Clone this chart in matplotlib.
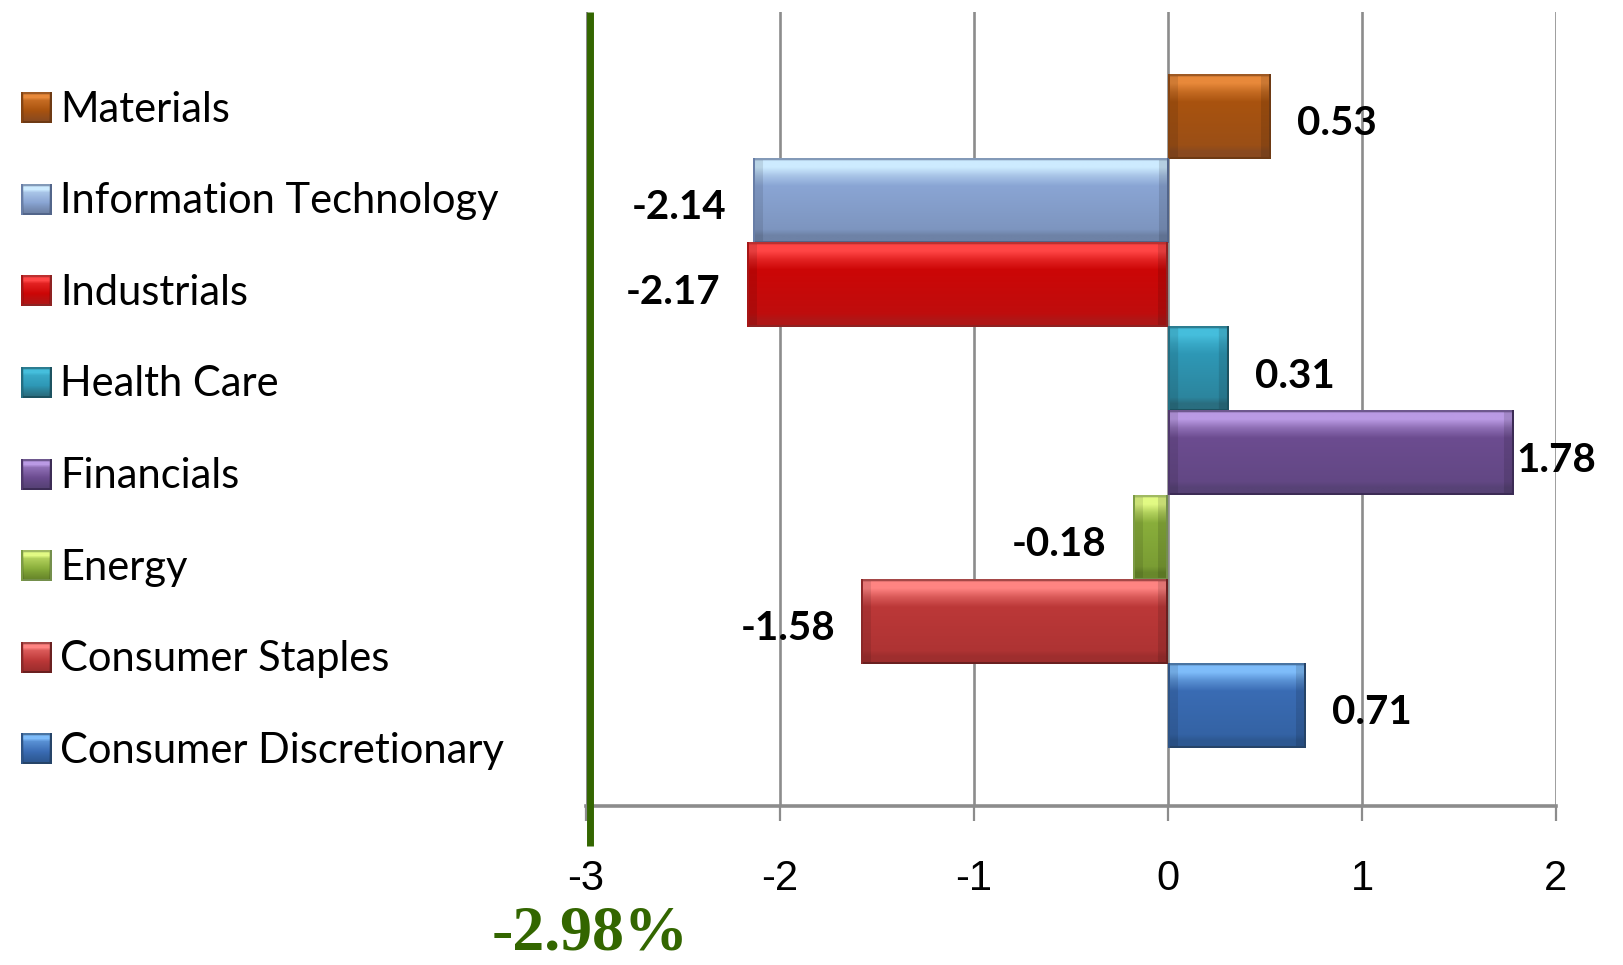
import numpy as np
import matplotlib
matplotlib.use("Agg")
import matplotlib.pyplot as plt
from matplotlib.colors import to_rgb
from matplotlib.transforms import blended_transform_factory

# Sector contributions (top to bottom as listed)
sectors = ["Materials", "Information Technology", "Industrials", "Health Care",
           "Financials", "Energy", "Consumer Staples", "Consumer Discretionary"]
values = [0.53, -2.14, -2.17, 0.31, 1.78, -0.18, -1.58, 0.71]
total_return = -2.98

x_ticks = [-3, -2, -1, 0, 1, 2]
x_tick_labels = ["-3", "-2", "-1", "0", "1", "2"]

# (base, highlight, shadow, edge) per sector
palette = {
    "Materials":              ("#A9530F", "#E8893A", "#8A4A1F", "#6E3A14"),
    "Information Technology": ("#8AA5D4", "#CDEBFF", "#6E82A6", "#52658A"),
    "Industrials":            ("#CC0606", "#FF4545", "#B01616", "#8E2222"),
    "Health Care":            ("#2E98B6", "#45BEDC", "#2A6E80", "#1C5260"),
    "Financials":             ("#6C4C90", "#BA9AE4", "#574276", "#3C2C55"),
    "Energy":                 ("#89AE3B", "#E2FA84", "#68882B", "#748F4C"),
    "Consumer Staples":       ("#BC3838", "#FF8482", "#9E2E2E", "#6A2020"),
    "Consumer Discretionary": ("#3A6CB4", "#7EBCFA", "#2D5892", "#264468"),
}

line_green = "#336600"
grid_grey = "#8C8C8C"


def mix(a, b, t):
    return (1 - t) * np.asarray(a) + t * np.asarray(b)


def bevel_image(colors, w_px, h_px, side_px=10, top_px=14, bottom_px=8):
    base, light, dark, edge = [np.array(to_rgb(c)) for c in colors]
    H = max(int(round(h_px)), 8)
    W = max(int(round(w_px)), 4)
    rows = np.arange(H)
    stops = [0, 3, 3 + top_px * 0.4, 3 + top_px, 3 + top_px + 10,
             H - bottom_px - 6, H - bottom_px, H - 1]
    cols = [edge * 0.5 + light * 0.5, light, light, mix(light, base, 0.55),
            base, mix(base, dark, 0.45), dark, dark]
    prof = np.stack([np.interp(rows, stops, [c[k] for c in cols]) for k in range(3)], axis=1)
    img = np.repeat(prof[:, None, :], W, axis=1)
    s = min(side_px, W // 3)
    if s > 0:
        img[:, :s, :] *= 0.9
        img[:, W - s:, :] *= 0.88
    img[:2, :, :] = mix(edge, light, 0.4)
    img[-2:, :, :] = edge
    img[:, :2, :] = mix(edge, base, 0.4)
    img[:, -2:, :] = edge
    return np.clip(img, 0, 1)


W_PX, H_PX = 1624, 965
fig = plt.figure(figsize=(W_PX / 100, H_PX / 100), dpi=100)
fig.patch.set_facecolor("white")

ax = fig.add_axes([586 / W_PX, 1 - 806 / H_PX, (1556 - 586) / W_PX, (806 - 12.4) / H_PX])
n = len(sectors)
ypos = np.arange(n)[::-1]  # first sector at the top
bar_h = 1.0
xlim = (-3, 2)
ylim = (-1.19, n - 1 + 0.5 + 0.74)

ax.set_xlim(*xlim)
ax.set_ylim(*ylim)

bars = ax.barh(ypos, values, height=bar_h,
               color=[palette[s][0] for s in sectors], zorder=3)

# pixel size of one data unit
p0 = ax.transData.transform((0, 0))
p1 = ax.transData.transform((1, 1))
px_x = abs(p1[0] - p0[0])
px_y = abs(p1[1] - p0[1])

for rect, s in zip(bars, sectors):
    x0, w = rect.get_x(), rect.get_width()
    y0, h = rect.get_y(), rect.get_height()
    x_left, x_right = min(x0, x0 + w), max(x0, x0 + w)
    img = bevel_image(palette[s], abs(w) * px_x, h * px_y)
    ax.imshow(img, extent=(x_left, x_right, y0, y0 + h), aspect="auto",
              interpolation="bilinear", origin="upper", zorder=3.5)

ax.set_xlim(*xlim)
ax.set_ylim(*ylim)

# grid and axis styling
ax.set_axisbelow(True)
ax.xaxis.grid(True, color=grid_grey, linewidth=1.9)
ax.yaxis.grid(False)
for side in ("top", "right", "left"):
    ax.spines[side].set_visible(False)
ax.spines["bottom"].set_color(grid_grey)
ax.spines["bottom"].set_linewidth(2.6)
ax.set_yticks([])
ax.set_xticks(x_ticks)
ax.set_xticklabels(x_tick_labels, family=["Liberation Sans Narrow", "Liberation Sans", "DejaVu Sans"])
ax.tick_params(axis="x", direction="out", length=11, width=1.6, color=grid_grey,
               labelsize=30, pad=27, labelcolor="black")

# value labels
label_font = dict(family=["Lato", "DejaVu Sans"], fontweight="bold", fontsize=29, color="black")
label_width_units = 0.43
for v, y in zip(values, ypos):
    gap = 19
    if v > 0 and v + 0.13 + label_width_units > xlim[1]:
        gap = 2
    if v >= 0:
        ax.annotate(f"{v:.2f}", xy=(v, y), xytext=(gap, -5), textcoords="offset points",
                    ha="left", va="center", zorder=5, annotation_clip=False, **label_font)
    else:
        ax.annotate(f"{v:.2f}", xy=(v, y), xytext=(-gap, -5), textcoords="offset points",
                    ha="right", va="center", zorder=5, annotation_clip=False, **label_font)

# total-return line and its label
trans = blended_transform_factory(ax.transData, ax.transAxes)
ax.plot([total_return, total_return], [1.0, -0.05], transform=trans, color=line_green,
        linewidth=5, clip_on=False, zorder=6, solid_capstyle="butt")
ax.text(total_return, -0.181, f"{total_return:.2f}%", transform=trans, ha="center", va="baseline",
        family=["Liberation Serif", "DejaVu Serif"], fontweight="bold", fontsize=46,
        color=line_green, clip_on=False)

# legend drawn in a full-figure overlay
lax = fig.add_axes([0, 0, 1, 1])
lax.set_xlim(0, W_PX)
lax.set_ylim(H_PX, 0)
lax.axis("off")
lax.patch.set_alpha(0)
row0, row_step, sq = 107.7, 91.6, 31
for i, s in enumerate(sectors):
    cy = row0 + i * row_step
    img = bevel_image(palette[s], sq, sq, side_px=3, top_px=5, bottom_px=3)
    lax.imshow(img, extent=(21, 21 + sq, cy + sq / 2, cy - sq / 2), aspect="auto",
               interpolation="bilinear", origin="upper")
    lax.text(60, cy + 2, s, ha="left", va="center", family=["Lato", "DejaVu Sans"],
             fontsize=30, color="black")
lax.set_xlim(0, W_PX)
lax.set_ylim(H_PX, 0)

fig.savefig("out.png", dpi=100, facecolor="white")
